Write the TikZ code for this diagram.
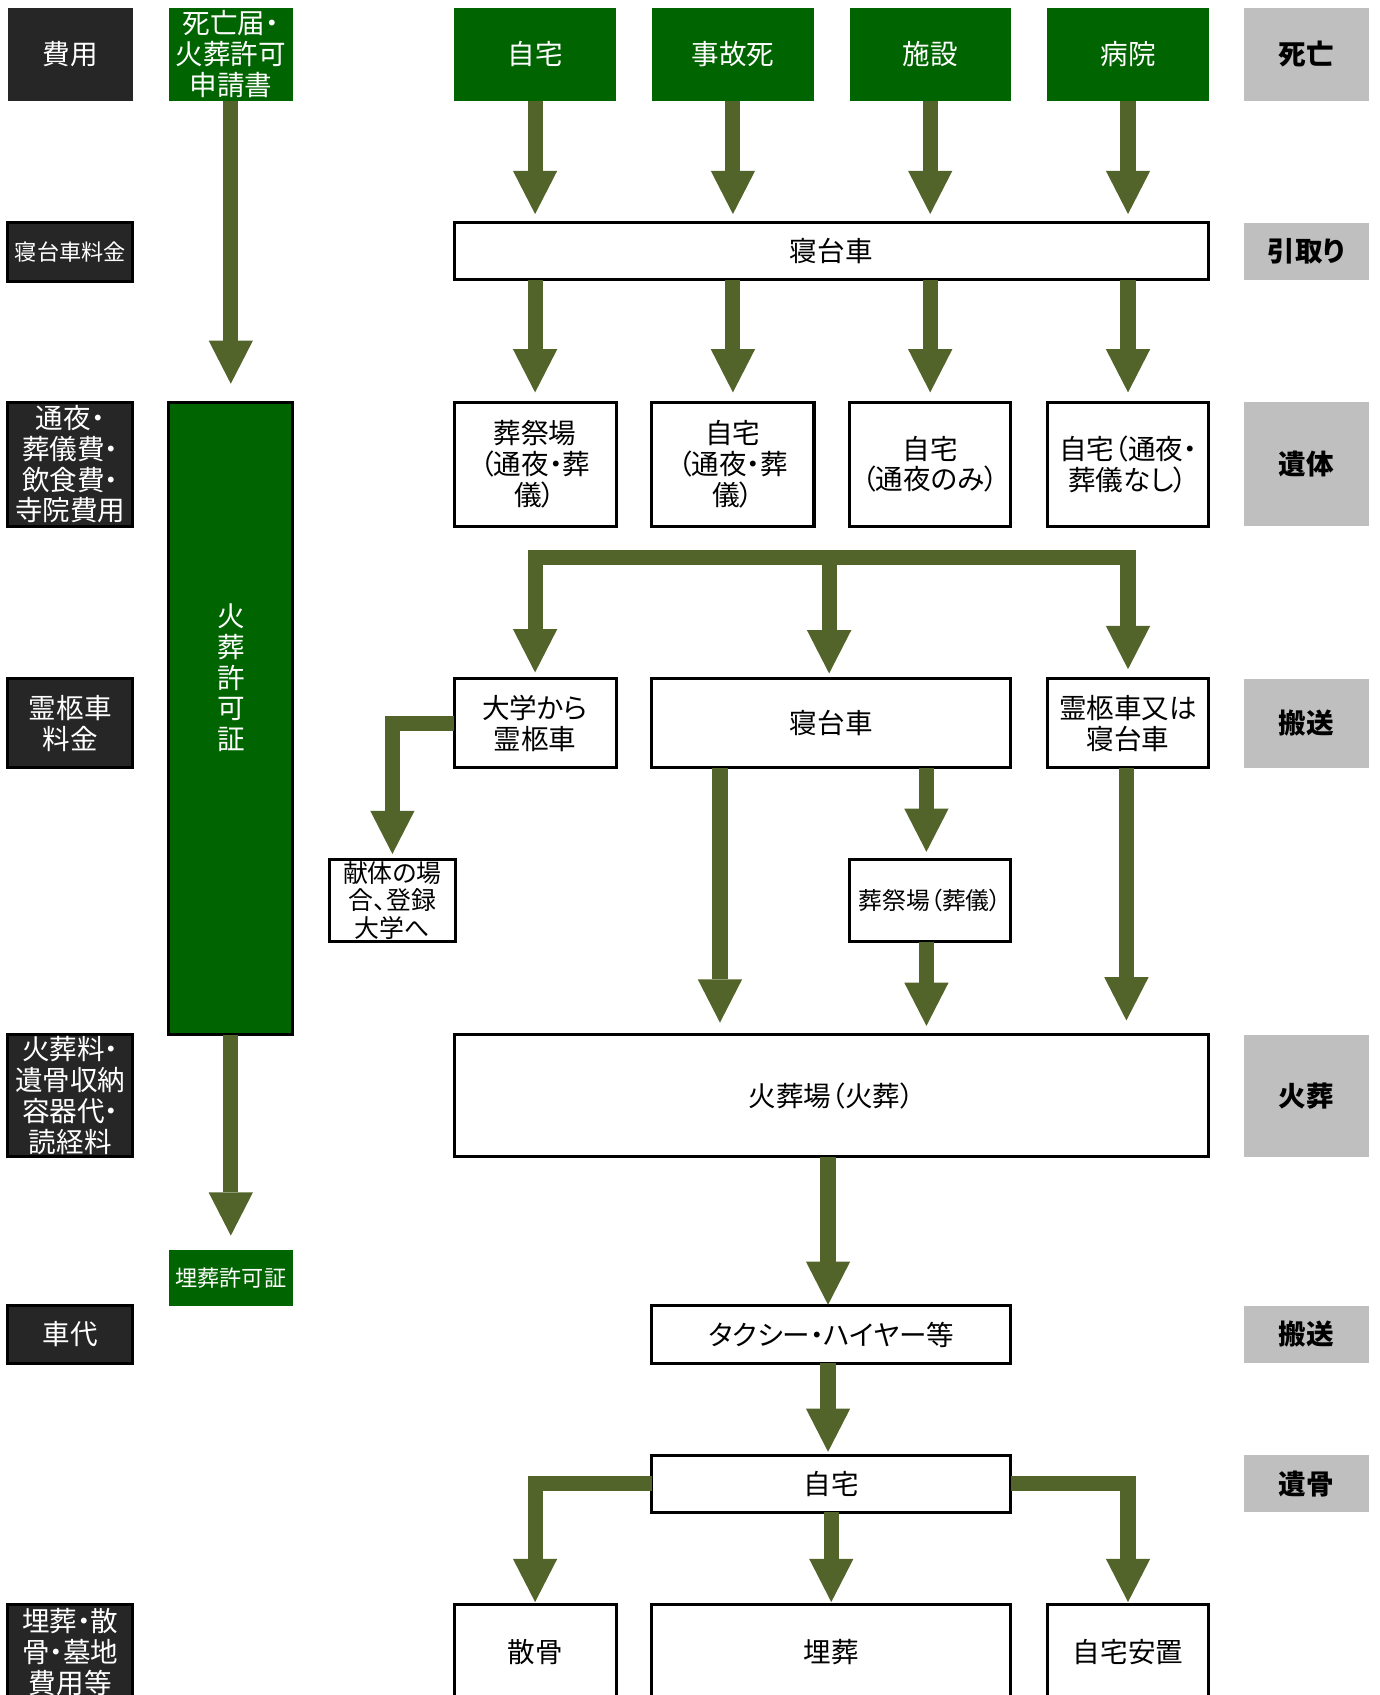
\documentclass[tikz,border=0pt]{standalone}
\usepackage{fontspec}
\setmainfont{Noto Sans CJK JP}[RawFeature=+palt]
\usetikzlibrary{arrows.meta}
\definecolor{dk}{RGB}{38,38,38}
\definecolor{gr}{RGB}{0,100,0}
\definecolor{gy}{RGB}{191,191,191}
\definecolor{ol}{RGB}{82,100,41}
\newcommand{\fmain}{\fontsize{25.5}{28.5}\selectfont}
\newcommand{\fsmall}{\fontsize{20.5}{24}\selectfont}
\newcommand{\fsj}{\fontsize{22}{24}\selectfont}
\newcommand{\fmid}{\fontsize{23}{25.5}\selectfont}
\begin{document}
\begin{tikzpicture}[x=1pt,y=-1pt,
  base/.style={inner sep=0pt, outer sep=0pt, align=center, font=\fmain},
  dark/.style={base, fill=dk, text=white, draw=black, line width=2.8pt},
  grn/.style={base, fill=gr, text=white},
  wht/.style={base, fill=white, draw=black, line width=2.8pt},
  gry/.style={base, fill=gy, font=\fmain\bfseries},
  sz/.style 2 args={minimum width=#1pt, minimum height=#2pt},
  arr/.style={draw=ol, line width=14pt, line join=miter,
    -{Triangle[length=40pt 0 0, width=41pt 0 0, line width=0pt 0 0]}},
]
\useasboundingbox (0,0) rectangle (1276,1568);

% left cost column
\node[dark, draw=none, sz={116}{86}] (c1) at (65,50) {費用};
\node[dark, sz={116}{54}, font=\fsmall] (c2) at (65,233) {寝台車料金};
\node[dark, sz={116}{115}] (c3) at (65,429.5) {通夜・\\葬儀費・\\飲食費・\\寺院費用};
\node[dark, sz={116}{82}] (c4) at (65,669) {霊柩車\\料金};
\node[dark, sz={116}{113}] (c5) at (65,1013.5) {火葬料・\\遺骨収納\\容器代・\\読経料};
\node[dark, sz={116}{53}] (c6) at (65,1234.5) {車代};
\node[dark, sz={116}{88}] (c7) at (65,1528) {埋葬・散\\骨・墓地\\費用等};

% documents column
\node[grn, sz={115}{86}] (doc1) at (213.5,50) {死亡届・\\火葬許可\\申請書};
\node[grn, draw=black, line width=2.8pt, sz={115}{585}] (doc2) at (213.5,664.5) {};
\node[base, text=white] (doc2t) at (213.5,627) {火\\葬\\許\\可\\証};
\node[grn, sz={115}{52}, font=\fsmall] (doc3) at (213.5,1182) {埋葬許可証};

% right stage column
\node[gry, sz={115}{86}] (s1) at (1208.5,50) {死亡};
\node[gry, sz={115}{53}] (s2) at (1208.5,232.5) {引取り};
\node[gry, sz={115}{115}] (s3) at (1208.5,429.5) {遺体};
\node[gry, sz={115}{82}] (s4) at (1208.5,669) {搬送};
\node[gry, sz={115}{113}] (s5) at (1208.5,1013.5) {火葬};
\node[gry, sz={115}{53}] (s6) at (1208.5,1234.5) {搬送};
\node[gry, sz={115}{53}] (s7) at (1208.5,1372.5) {遺骨};

% death places
\node[grn, sz={150}{86}] (d1) at (495,50) {自宅};
\node[grn, sz={150}{86}] (d2) at (678,50) {事故死};
\node[grn, sz={149}{86}] (d3) at (860.5,50) {施設};
\node[grn, sz={149}{86}] (d4) at (1043.5,50) {病院};

\node[wht, sz={698}{53}] (hk) at (769,232.5) {寝台車};

\node[wht, sz={150}{115}] (u1) at (495,429.5) {葬祭場\\（通夜・葬\\儀）};
\node[wht, sz={150}{115}] (u2) at (678,429.5) {自宅\\（通夜・葬\\儀）};
\node[wht, sz={149}{115}] (u3) at (860.5,429.5) {自宅\\（通夜のみ）};
\node[wht, sz={149}{115}] (u4) at (1043.5,429.5) {自宅（通夜・\\葬儀なし）};

\node[wht, sz={150}{82}] (t1) at (495,669) {大学から\\霊柩車};
\node[wht, sz={332}{82}] (t2) at (769,669) {寝台車};
\node[wht, sz={149}{82}] (t3) at (1043.5,669) {霊柩車又は\\寝台車};

\node[wht, sz={116}{76}, font=\fmid] (kt) at (363,833) {献体の場\\合、登録\\大学へ};
\node[wht, sz={149}{76}, font=\fsj] (sj) at (860.5,833) {葬祭場（葬儀）};

\node[wht, sz={698}{113}] (ks) at (769,1013.5) {火葬場（火葬）};
\node[wht, sz={332}{53}] (tx) at (769,1234.5) {タクシー・ハイヤー等};
\node[wht, sz={332}{53}] (jt) at (769,1372.5) {自宅};

\node[wht, sz={150}{88}] (b1) at (495,1528) {散骨};
\node[wht, sz={332}{88}] (b2) at (769,1528) {埋葬};
\node[wht, sz={149}{88}] (b3) at (1043.5,1528) {自宅安置};

% helper coordinates
\coordinate (barM) at (767,516);
\coordinate (xL) at (666,0);
\coordinate (xS) at (857,0);
\coordinate (xR) at (1042,0);
\coordinate (xK) at (766,0);

% arrows
\draw[arr, shorten >=17pt] (doc1.south) -- (doc2.north);
\draw[arr, shorten >=13pt] (doc2.south) -- (doc3.north);

\foreach \n in {d1,d2,d3,d4}
  \draw[arr, shorten >=8pt] (\n.south) -- (\n.south |- hk.north);
\foreach \n in {u1,u2,u3,u4}
  \draw[arr, shorten >=9pt] (\n.north |- hk.south) -- (\n.north);

\draw[arr, shorten >=6pt] (barM) -| (t1.north);
\draw[arr, shorten >=9pt] (barM) -| (t3.north);
\draw[arr, shorten >=5pt] (barM) -- (barM |- t2.north);

\draw[arr, shorten >=5pt] (t1.west) -| (kt.north);
\draw[arr, shorten >=11pt] (xL |- t2.south) -- (xL |- ks.north);
\draw[arr, shorten >=7pt] (xS |- t2.south) -- (xS |- sj.north);
\draw[arr, shorten >=8pt] (xS |- sj.south) -- (xS |- ks.north);
\draw[arr, shorten >=13pt] (xR |- t3.south) -- (xR |- ks.north);

\draw[arr, shorten >=1pt] (xK |- ks.south) -- (xK |- tx.north);
\draw[arr, shorten >=3pt] (xK |- tx.south) -- (xK |- jt.north);

\draw[arr, shorten >=2pt] (jt.west) -| (b1.north);
\draw[arr, shorten >=2pt] (jt.south) -- (b2.north);
\draw[arr, shorten >=2pt] (jt.east) -| (b3.north);
\end{tikzpicture}
\end{document}
